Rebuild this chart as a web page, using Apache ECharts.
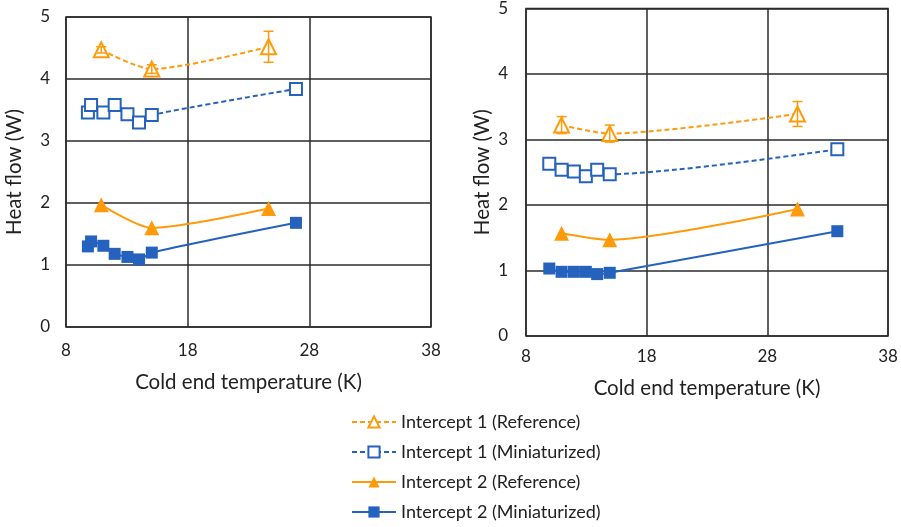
<!DOCTYPE html>
<html>
<head>
<meta charset="utf-8">
<script src="https://cdn.jsdelivr.net/npm/echarts@6/dist/echarts.min.js"></script>
<style>
  html, body { margin: 0; padding: 0; background: #fff; }
  #chart { width: 901px; height: 527px; }
</style>
</head>
<body>
<div id="chart"></div>
<script>
// left panel
const leftRef1 = [[10.9, 4.47], [15.05, 4.16], [24.65, 4.52]];
const leftRef1Err = [0.05, 0.07, 0.25];
const leftMini1 = [[9.8, 3.46], [10.06, 3.58], [11.07, 3.46], [12.0, 3.58], [13.05, 3.43], [14.0, 3.30], [15.05, 3.42], [26.9, 3.84]];
const leftRef2 = [[10.9, 1.97], [15.05, 1.60], [24.65, 1.91]];
const leftMini2 = [[9.8, 1.30], [10.06, 1.38], [11.07, 1.31], [12.0, 1.18], [13.05, 1.13], [14.0, 1.09], [15.05, 1.20], [26.9, 1.68]];

// right panel
const rightRef1 = [[10.95, 3.22], [14.94, 3.09], [30.5, 3.39]];
const rightRef1Err = [0.13, 0.13, 0.19];
const rightMini1 = [[9.93, 2.63], [10.95, 2.54], [11.97, 2.51], [12.96, 2.44], [13.9, 2.54], [14.94, 2.47], [33.8, 2.85]];
const rightRef2 = [[10.95, 1.57], [14.94, 1.47], [30.5, 1.94]];
const rightMini2 = [[9.93, 1.03], [10.95, 0.98], [11.97, 0.98], [12.96, 0.98], [13.9, 0.945], [14.94, 0.965], [33.8, 1.60]];

const names = ['Intercept 1 (Reference)', 'Intercept 1 (Miniaturized)', 'Intercept 2 (Reference)', 'Intercept 2 (Miniaturized)'];

const orange = '#FF9A0A';
const blue = '#2462BE';
const gridColor = '#2b2b2b';
const font = 'Lato, "Open Sans", sans-serif';

const chart = echarts.init(document.getElementById('chart'));

function xAxis(gi, gap, margin) {
  return {
    type: 'value', gridIndex: gi, min: 8, max: 38, interval: 10,
    name: 'Cold end temperature (K)', nameLocation: 'middle', nameGap: gap,
    nameTextStyle: { fontSize: 20.5, color: '#222', fontFamily: font },
    axisLine: { show: false }, axisTick: { show: false },
    axisLabel: { fontSize: 17, color: '#222', fontFamily: font, margin: margin },
    splitLine: { lineStyle: { color: gridColor, width: 1.5 } }
  };
}
function yAxis(gi, gap, margin) {
  return {
    type: 'value', gridIndex: gi, min: 0, max: 5, interval: 1,
    name: 'Heat flow (W)', nameLocation: 'middle', nameGap: gap,
    nameTextStyle: { fontSize: 20.5, color: '#222', fontFamily: font },
    axisLine: { show: false }, axisTick: { show: false },
    axisLabel: { fontSize: 17, color: '#222', fontFamily: font, margin: margin },
    splitLine: { lineStyle: { color: gridColor, width: 1.5 } }
  };
}

function lineSeries(name, data, gi, dashed, filled, isTri) {
  const color = isTri ? orange : blue;
  return {
    name: name, type: 'line', xAxisIndex: gi, yAxisIndex: gi,
    data: data, smooth: 0.25,
    symbol: isTri ? 'triangle' : 'rect',
    symbolSize: isTri ? 15 : 12,
    lineStyle: { color: color, width: 2, type: dashed ? [5, 3] : 'solid' },
    itemStyle: { color: filled ? color : '#fff', borderColor: color, borderWidth: filled ? 0 : 2 },
    z: 3
  };
}

function errSeries(data, err, gi) {
  return {
    type: 'custom', xAxisIndex: gi, yAxisIndex: gi,
    data: data.map((d, i) => [d[0], d[1] - err[i], d[1] + err[i]]),
    renderItem: function (params, api) {
      const lo = api.coord([api.value(0), api.value(1)]);
      const hi = api.coord([api.value(0), api.value(2)]);
      const w = 5;
      const st = { stroke: orange, lineWidth: 1.5 };
      return {
        type: 'group',
        children: [
          { type: 'line', shape: { x1: lo[0], y1: lo[1], x2: hi[0], y2: hi[1] }, style: st },
          { type: 'line', shape: { x1: lo[0] - w, y1: lo[1], x2: lo[0] + w, y2: lo[1] }, style: st },
          { type: 'line', shape: { x1: hi[0] - w, y1: hi[1], x2: hi[0] + w, y2: hi[1] }, style: st }
        ]
      };
    },
    z: 4
  };
}

chart.setOption({
  animation: false,
  textStyle: { fontFamily: font },
  grid: [
    { left: 66, top: 17, width: 365, height: 310, show: true, borderColor: gridColor, borderWidth: 1.5 },
    { left: 526, top: 8, width: 362, height: 328, show: true, borderColor: gridColor, borderWidth: 1.5 }
  ],
  xAxis: [xAxis(0, 45, 15), xAxis(1, 42, 12)],
  yAxis: [yAxis(0, 41, 16), yAxis(1, 33, 18)],
  legend: {
    data: names, orient: 'vertical', left: 351, top: 413, padding: 0,
    itemWidth: 44, itemHeight: 14, itemGap: 12,
    textStyle: { fontSize: 18, color: '#222', fontFamily: font }
  },
  series: [
    lineSeries(names[0], leftRef1, 0, true, false, true),
    lineSeries(names[1], leftMini1, 0, true, false, false),
    lineSeries(names[2], leftRef2, 0, false, true, true),
    lineSeries(names[3], leftMini2, 0, false, true, false),
    errSeries(leftRef1, leftRef1Err, 0),
    lineSeries(names[0], rightRef1, 1, true, false, true),
    lineSeries(names[1], rightMini1, 1, true, false, false),
    lineSeries(names[2], rightRef2, 1, false, true, true),
    lineSeries(names[3], rightMini2, 1, false, true, false),
    errSeries(rightRef1, rightRef1Err, 1)
  ]
});
</script>
</body>
</html>
